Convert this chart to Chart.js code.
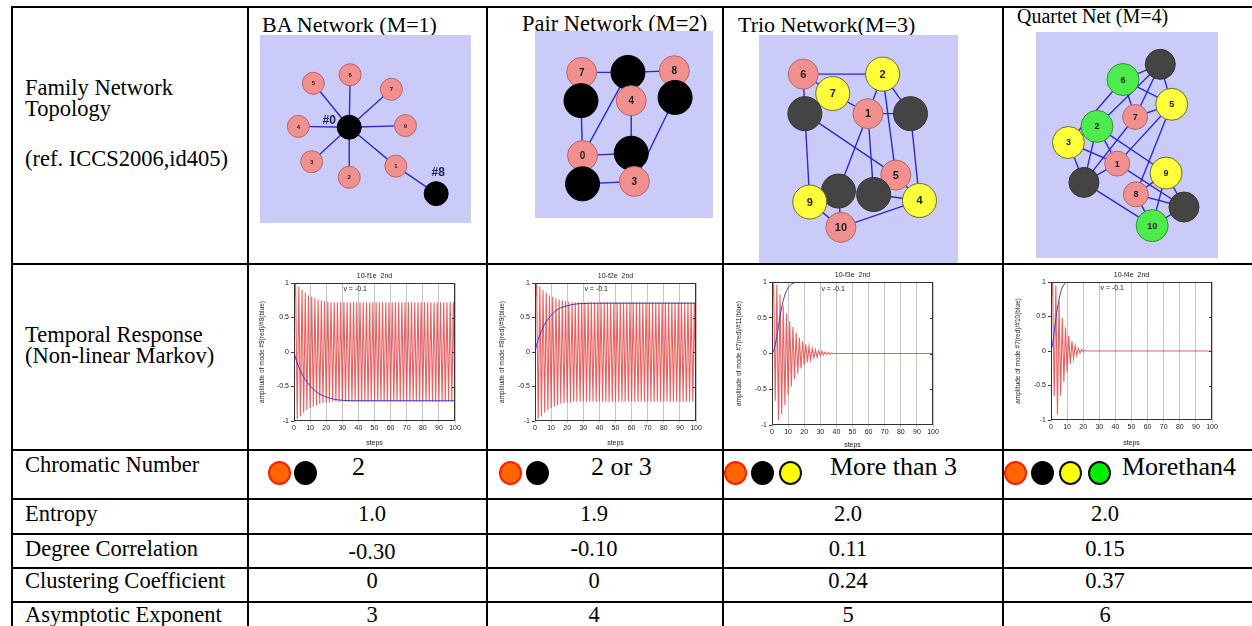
<!DOCTYPE html>
<html>
<head>
<meta charset="utf-8">
<script src="https://cdn.jsdelivr.net/npm/chart.js@4.4.1/dist/chart.umd.min.js"></script>
<style>
  html, body { margin: 0; padding: 0; background: #fff; }
  #page { position: relative; width: 1252px; height: 626px; overflow: hidden;
          font-family: "Liberation Serif", "Times New Roman", serif; color: #000; }
  .t { position: absolute; white-space: nowrap; line-height: 1; }
  .hl { position: absolute; background: #000; height: 2px; }
  .vl { position: absolute; background: #000; width: 2px; }
  .box { position: absolute; }
  .net { background: #cbcbfa; }
  .dot { position: absolute; border-radius: 50%; box-sizing: border-box; border: 2px solid #000; }
</style>
</head>
<body>
<div id="page"></div>
<script>
// ---------- table text ----------
const columnTitles = ["BA Network (M=1)", "Pair Network (M=2)", "Trio Network(M=3)", "Quartet Net (M=4)"];
const chromaticText = ["2", "2 or 3", "More than 3", "Morethan4"];
const chromaticCount = [2, 2, 3, 4];
const entropy = ["1.0", "1.9", "2.0", "2.0"];
const degreeCorrelation = ["-0.30", "-0.10", "0.11", "0.15"];
const clustering = ["0", "0", "0.24", "0.37"];
const asymptoticExponent = ["3", "4", "5", "6"];

// ---------- networks (x, y in % of the picture, y downwards) ----------
// kinds: r = pink, k = black, d = dark grey, y = yellow, g = green
const baLabels = ["", "1", "2", "3", "4", "5", "6", "7", "", "9"];
const baTags   = ["#0", "", "", "", "", "", "", "", "#8", ""];
const baKinds  = ["k", "r", "r", "r", "r", "r", "r", "r", "k", "r"];
const baX      = [41.2, 66.4, 41.2, 20.9, 13.7, 21.8, 41.7, 64.0, 88.2, 71.6];
const baY      = [48.9, 72.9, 79.8, 70.2, 48.4, 21.8, 16.5, 25.5, 89.9, 47.9];
const baEdges  = [[0,1],[0,2],[0,3],[0,4],[0,5],[0,6],[0,7],[0,9],[1,8]];

const pairLabels = ["7", "", "8", "", "4", "", "0", "", "", "3"];
const pairKinds  = ["r", "k", "r", "k", "r", "k", "r", "k", "k", "r"];
const pairX      = [20.2, 52.8, 85.4, 19.7, 55.1, 86.0, 20.8, 55.1, 20.8, 57.3];
const pairY      = [15.5, 15.5, 14.4, 34.2, 34.2, 32.1, 70.6, 69.0, 89.3, 87.7];
const pairEdges  = [[0,1],[1,2],[3,6],[6,1],[4,7],[6,7],[5,9],[8,9],[0,3],[2,5],[6,8],[1,4],[7,9]];

const trioLabels = ["6", "2", "7", "", "1", "", "5", "", "", "9", "4", "10"];
const trioKinds  = ["r", "y", "y", "d", "r", "d", "r", "d", "d", "y", "y", "r"];
const trioX      = [16.1, 64.8, 34.2, 17.1, 55.8, 81.9, 72.9, 37.7, 59.3, 20.1, 87.4, 39.2];
const trioY      = [11.0, 11.0, 21.1, 31.6, 31.6, 31.6, 63.6, 71.9, 73.7, 77.6, 76.8, 90.8];
const trioEdges  = [[0,1],[0,2],[0,3],[2,3],[2,4],[4,1],[4,5],[1,5],[1,6],[3,6],[3,9],[4,7],[4,8],
                    [5,10],[6,8],[6,10],[8,10],[7,11],[9,11],[11,10],[9,7]];

const quartetLabels = ["", "6", "5", "7", "2", "3", "1", "9", "", "8", "", "10"];
const quartetKinds  = ["d", "g", "y", "r", "g", "y", "r", "y", "d", "r", "d", "g"];
const quartetX      = [72.5, 47.3, 80.2, 55.5, 29.7, 10.4, 43.4, 76.4, 20.9, 56.0, 88.5, 67.0];
const quartetY      = [8.0, 15.9, 28.8, 35.4, 40.3, 48.7, 59.7, 64.6, 69.5, 75.7, 82.3, 92.0];
const quartetEdges  = [[0,1],[5,1],[4,0],[1,2],[1,3],[0,3],[0,2],[3,2],[3,8],[2,6],[2,9],[4,5],[4,8],
                       [4,6],[4,7],[5,8],[5,6],[8,6],[6,10],[8,11],[7,9],[7,11],[7,10],[9,10],[9,11],[11,10]];

// ---------- temporal response ----------
const plotTitles = ["10-f1e  2nd", "10-f2e  2nd", "10-f3e  2nd", "10-f4e  2nd"];
const plotNote = "v = -0.1";
const plotYLabels = ["amplitude of mode #9(red)/#8(blue)", "amplitude of mode #8(red)/#9(blue)",
                     "amplitude of mode #7(red)/#11(blue)", "amplitude of mode #7(red)/#10(blue)"];
const yTickLabels = ["-1", "-0.5", "0", "0.5", "1"];
const steps = [0,1,2,3,4,5,6,7,8,9,10,11,12,13,14,15,16,17,18,19,20,21,22,23,24,25,26,27,28,29,
  30,31,32,33,34,35,36,37,38,39,40,41,42,43,44,45,46,47,48,49,50,51,52,53,54,55,56,57,58,59,
  60,61,62,63,64,65,66,67,68,69,70,71,72,73,74,75,76,77,78,79,80,81,82,83,84,85,86,87,88,89,
  90,91,92,93,94,95,96,97,98,99,100];

const redBA = [0.70, 1.00, -0.97, 0.95, -0.93, 0.90, -0.88, 0.86, -0.84, 0.82,
  -0.81, 0.80, -0.79, 0.78, -0.77, 0.76, -0.75, 0.75, -0.74, 0.74,
  -0.73, 0.73, -0.73, 0.72, -0.72, 0.72, -0.72, 0.72, -0.72, 0.72,
  -0.72, 0.72, -0.72, 0.72, -0.72, 0.72, -0.72, 0.72, -0.72, 0.72,
  -0.72, 0.72, -0.72, 0.72, -0.72, 0.72, -0.72, 0.72, -0.72, 0.72,
  -0.72, 0.72, -0.72, 0.72, -0.72, 0.72, -0.72, 0.72, -0.72, 0.72,
  -0.72, 0.72, -0.72, 0.72, -0.72, 0.72, -0.72, 0.72, -0.72, 0.72,
  -0.72, 0.72, -0.72, 0.72, -0.72, 0.72, -0.72, 0.72, -0.72, 0.72,
  -0.72, 0.72, -0.72, 0.72, -0.72, 0.72, -0.72, 0.72, -0.72, 0.72,
  -0.72, 0.72, -0.72, 0.72, -0.72, 0.72, -0.72, 0.72, -0.72, 0.72,
  -0.72];
const redPair = [0.70, 1.00, -0.97, 0.95, -0.93, 0.90, -0.88, 0.86, -0.84, 0.82,
  -0.81, 0.80, -0.79, 0.78, -0.77, 0.76, -0.75, 0.75, -0.74, 0.74,
  -0.73, 0.73, -0.73, 0.72, -0.72, 0.72, -0.72, 0.72, -0.72, 0.72,
  -0.72, 0.72, -0.72, 0.72, -0.72, 0.72, -0.72, 0.72, -0.72, 0.72,
  -0.72, 0.72, -0.72, 0.72, -0.72, 0.72, -0.72, 0.72, -0.72, 0.72,
  -0.72, 0.72, -0.72, 0.72, -0.72, 0.72, -0.72, 0.72, -0.72, 0.72,
  -0.72, 0.72, -0.72, 0.72, -0.72, 0.72, -0.72, 0.72, -0.72, 0.72,
  -0.72, 0.72, -0.72, 0.72, -0.72, 0.72, -0.72, 0.72, -0.72, 0.72,
  -0.72, 0.72, -0.72, 0.72, -0.72, 0.72, -0.72, 0.72, -0.72, 0.72,
  -0.72, 0.72, -0.72, 0.72, -0.72, 0.72, -0.72, 0.72, -0.72, 0.72,
  -0.72];
const redTrio = [0.70, 0.98, -0.66, 0.96, -0.93, 0.82, -0.85, 0.66, -0.72, 0.56,
  -0.58, 0.45, -0.46, 0.37, -0.36, 0.29, -0.28, 0.22, -0.21, 0.17,
  -0.16, 0.13, -0.12, 0.10, -0.09, 0.07, -0.06, 0.05, -0.05, 0.04,
  -0.03, 0.03, -0.02, 0.02, -0.01, 0.01, -0.01, 0.01, 0, 0,
  0, 0, 0, 0, 0, 0, 0, 0, 0, 0,
  0, 0, 0, 0, 0, 0, 0, 0, 0, 0,
  0, 0, 0, 0, 0, 0, 0, 0, 0, 0,
  0, 0, 0, 0, 0, 0, 0, 0, 0, 0,
  0, 0, 0, 0, 0, 0, 0, 0, 0, 0,
  0, 0, 0, 0, 0, 0, 0, 0, 0, 0,
  0];
const redQuartet = [0.70, 1.00, -0.66, 0.95, -0.92, 0.72, -0.65, 0.48, -0.45, 0.34,
  -0.30, 0.22, -0.19, 0.14, -0.11, 0.08, -0.06, 0.04, -0.03, 0.02,
  -0.01, 0.01, 0, 0, 0, 0, 0, 0, 0, 0,
  0, 0, 0, 0, 0, 0, 0, 0, 0, 0,
  0, 0, 0, 0, 0, 0, 0, 0, 0, 0,
  0, 0, 0, 0, 0, 0, 0, 0, 0, 0,
  0, 0, 0, 0, 0, 0, 0, 0, 0, 0,
  0, 0, 0, 0, 0, 0, 0, 0, 0, 0,
  0, 0, 0, 0, 0, 0, 0, 0, 0, 0,
  0, 0, 0, 0, 0, 0, 0, 0, 0, 0,
  0];

const blueStepsBA = [0, 1, 2, 3, 5, 7, 10, 13, 16, 20, 25, 30, 40, 100];
const blueBA      = [0, -0.09, -0.16, -0.22, -0.32, -0.40, -0.49, -0.56, -0.61, -0.65, -0.685, -0.70, -0.706, -0.707];
const blueStepsPair = [0, 1, 2, 3, 5, 7, 10, 13, 16, 20, 25, 30, 40, 100];
const bluePair      = [0, 0.10, 0.18, 0.25, 0.36, 0.44, 0.53, 0.60, 0.64, 0.67, 0.695, 0.703, 0.707, 0.707];
const blueStepsTrio = [0, 1, 2, 3, 4, 5, 6, 7, 8, 10, 12, 14, 16, 100];
const blueTrio      = [0, 0.04, 0.12, 0.24, 0.38, 0.52, 0.64, 0.74, 0.82, 0.92, 0.97, 0.99, 1.0, 1.0];
const blueStepsQuartet = [0, 1, 2, 3, 4, 5, 6, 7, 8, 9, 10, 100];
const blueQuartet      = [0, 0.10, 0.28, 0.46, 0.62, 0.75, 0.85, 0.92, 0.96, 0.99, 1.0, 1.0];

// ---------- layout / style ----------
Chart.defaults.font.family = "'Liberation Sans', Arial, sans-serif";
const page = document.getElementById("page");
const labelSize = 22.5;
const valueCentres = [372, 594, 848, 1105];
const netBoxes = [[260, 35, 211, 188], [535, 31, 178, 187], [759, 35, 199, 228], [1036, 32, 182, 226]];
// left, top, width, height, y-axis width, right pad, top pad, x-axis height
const plotBoxes = [[252, 267, 232, 180, 42, 29, 16, 26], [492, 267, 228, 180, 43, 24, 16, 26],
                   [729, 267, 270, 182, 43, 66, 15, 24], [1008, 267, 240, 180, 43, 36, 15, 27]];
const nodeFill = { r: "#f29090", k: "#000000", d: "#444444", y: "#ffff3c", g: "#4cec4c" };
const nodeLine = { r: "#b06868", k: "#000000", d: "#333333", y: "#6a6a30", g: "#3a8a3a" };
const nodeSize = [{ r: 11, k: 12 }, { r: 15, k: 17 }, { r: 15, y: 17, d: 17 }, { r: 12.5, y: 16, g: 16, d: 15 }];
const nodeFont = [6, 10, 11, 9];
const tagOffset = [[-20, -7], [2, -21]];

function text(str, x, baseline, size, centre) {
  const d = document.createElement("div");
  d.className = "t";
  d.textContent = str;
  d.style.fontSize = size + "px";
  d.style.top = (baseline - 0.8375 * size) + "px";
  d.style.left = x + "px";
  if (centre) d.style.transform = "translateX(-50%)";
  page.appendChild(d);
}

function box(l, t, w, h, cls) {
  const d = document.createElement("div");
  d.className = "box " + (cls || "");
  Object.assign(d.style, { left: l + "px", top: t + "px", width: w + "px", height: h + "px" });
  page.appendChild(d);
  const c = document.createElement("canvas");
  d.appendChild(c);
  return c;
}

// row labels
text("Family Network", 25, 96, labelSize);
text("Topology", 25, 117, labelSize);
text("(ref. ICCS2006,id405)", 25, 167, labelSize);
text("Temporal Response", 25, 343, labelSize);
text("(Non-linear Markov)", 25, 364, labelSize);
text("Chromatic Number", 25, 473, labelSize);
text("Entropy", 25, 522, labelSize);
text("Degree Correlation", 25, 557, labelSize);
text("Clustering Coefficient", 25, 589, labelSize);
text("Asymptotic Exponent", 25, 623, labelSize);

// column headers
text(columnTitles[0], 262, 32, 22);
text(columnTitles[1], 522, 32, 22.5);
text(columnTitles[2], 738, 32, 22);
text(columnTitles[3], 1017, 23, 20);

// chromatic row
const dotLefts = [[268, 294], [499, 526], [724, 751, 779], [1004, 1031, 1059, 1088]];
const dotStyle = [["#ff6600", "#ff2000"], ["#000000", "#000000"], ["#ffff00", "#111111"], ["#00ee00", "#111111"]];
const chromaticLefts = [352, 591, 830, 1122];
chromaticCount.forEach((n, c) => {
  for (let k = 0; k < n; k++) {
    const d = document.createElement("div");
    d.className = "dot";
    Object.assign(d.style, { left: dotLefts[c][k] + "px", top: "461px", width: "23px", height: "24px",
      background: dotStyle[k][0], borderColor: dotStyle[k][1] });
    page.appendChild(d);
  }
  text(chromaticText[c], chromaticLefts[c], 476, 26);
});

// numeric rows
[[entropy, 522], [degreeCorrelation, 557], [clustering, 589], [asymptoticExponent, 623]].forEach(([vals, base]) => {
  vals.forEach((v, c) => text(v, valueCentres[c], base + (v === "-0.30" ? 3 : 0), 22.5, true));
});

// ---------- network pictures ----------
function networkChart(i, xs, ys, kinds, labels, edges, tags) {
  const [l, t, w, h] = netBoxes[i];
  const cv = box(l, t, w, h, "net");
  const nodes = xs.map((x, j) => ({ x: x, y: ys[j] }));
  const datasets = [{
    data: nodes,
    showLine: false,
    clip: false,
    pointRadius: c => nodeSize[i][kinds[c.dataIndex]],
    pointBackgroundColor: c => nodeFill[kinds[c.dataIndex]],
    pointBorderColor: c => nodeLine[kinds[c.dataIndex]],
    pointBorderWidth: 1
  }];
  edges.forEach(([a, b]) => datasets.push({
    data: [nodes[a], nodes[b]], showLine: true, clip: false,
    borderColor: "#2b2bcc", borderWidth: 1.4, pointRadius: 0
  }));
  new Chart(cv, {
    type: "scatter",
    data: { datasets },
    options: {
      animation: false, responsive: true, maintainAspectRatio: false, events: [],
      layout: { padding: 0 },
      plugins: { legend: { display: false }, tooltip: { enabled: false } },
      scales: {
        x: { type: "linear", min: 0, max: 100, display: false },
        y: { type: "linear", min: 0, max: 100, reverse: true, display: false }
      }
    },
    plugins: [{
      id: "nodeText",
      afterDatasetsDraw(chart) {
        const ctx = chart.ctx, pts = chart.getDatasetMeta(0).data;
        ctx.save();
        ctx.textAlign = "center";
        ctx.textBaseline = "middle";
        ctx.fillStyle = "#1e1e1e";
        ctx.font = "bold " + nodeFont[i] + "px 'Liberation Sans', Arial, sans-serif";
        pts.forEach((p, j) => { if (labels[j]) ctx.fillText(labels[j], p.x, p.y + 0.5); });
        if (tags) {
          ctx.font = "bold 12px 'Liberation Sans', Arial, sans-serif";
          ctx.fillStyle = "#1c1c58";
          let n = 0;
          pts.forEach((p, j) => {
            if (tags[j]) { ctx.fillText(tags[j], p.x + tagOffset[n][0], p.y + tagOffset[n][1]); n++; }
          });
        }
        ctx.restore();
      }
    }]
  });
}

networkChart(0, baX, baY, baKinds, baLabels, baEdges, baTags);
networkChart(1, pairX, pairY, pairKinds, pairLabels, pairEdges);
networkChart(2, trioX, trioY, trioKinds, trioLabels, trioEdges);
networkChart(3, quartetX, quartetY, quartetKinds, quartetLabels, quartetEdges);

// ---------- temporal response plots ----------
const plotDecor = {
  id: "plotDecor",
  afterDatasetsDraw(chart, args, opts) {
    const { ctx, chartArea: a, scales } = chart;
    ctx.save();
    ctx.strokeStyle = "#333";
    ctx.lineWidth = 1;
    ctx.strokeRect(a.left + 0.5, a.top + 0.5, a.right - a.left - 1, a.bottom - a.top - 1);
    ctx.fillStyle = "#222";
    ctx.font = "7px 'Liberation Sans', Arial, sans-serif";
    ctx.textAlign = "center";
    ctx.fillText(opts.title, (a.left + a.right) / 2, a.top - 5);
    ctx.fillText(opts.note, scales.x.getPixelForValue(38), scales.y.getPixelForValue(0.88));
    // small ticks on the right edge
    ctx.beginPath();
    [-0.5, 0, 0.5].forEach(v => {
      const y = Math.round(scales.y.getPixelForValue(v)) + 0.5;
      ctx.moveTo(a.right - 3, y);
      ctx.lineTo(a.right, y);
    });
    ctx.stroke();
    ctx.restore();
  }
};

function responseChart(i, red, blueSteps, blue) {
  const [l, t, w, h, yW, padR, padT, xH] = plotBoxes[i];
  const cv = box(l, t, w, h);
  new Chart(cv, {
    type: "line",
    data: {
      datasets: [
        { data: blueSteps.map((s, j) => ({ x: s, y: blue[j] })), borderColor: "#3a3ac6", borderWidth: 1,
          pointRadius: 0, cubicInterpolationMode: "monotone" },
        { data: steps.map((s, j) => ({ x: s, y: red[j] })), borderColor: "rgba(226,76,76,0.88)", borderWidth: 1.1,
          pointRadius: 0, tension: 0 }
      ]
    },
    options: {
      animation: false, responsive: true, maintainAspectRatio: false, events: [],
      layout: { padding: { top: padT, right: padR, left: 0, bottom: 0 } },
      plugins: {
        legend: { display: false }, tooltip: { enabled: false },
        plotDecor: { title: plotTitles[i], note: plotNote }
      },
      scales: {
        x: {
          type: "linear", min: 0, max: 100,
          ticks: { stepSize: 10, font: { size: 7 }, color: "#222", padding: 1, maxRotation: 0, autoSkip: false },
          grid: { color: "#c6c6c6", tickLength: 2 },
          border: { display: false },
          title: { display: true, text: "steps", font: { size: 7 }, color: "#222", padding: 0 },
          afterFit: s => { s.height = xH; }
        },
        y: {
          type: "linear", min: -1, max: 1,
          ticks: { stepSize: 0.5, font: { size: 7 }, color: "#222", padding: 2,
                   callback: (v, k) => yTickLabels[k] },
          grid: { drawOnChartArea: false, tickLength: 3, color: "#444" },
          border: { display: false },
          title: { display: true, text: plotYLabels[i], font: { size: 6.5 }, color: "#222", padding: { top: 6, bottom: 2 } },
          afterFit: s => { s.width = yW; }
        }
      }
    },
    plugins: [plotDecor]
  });
}

responseChart(0, redBA, blueStepsBA, blueBA);
responseChart(1, redPair, blueStepsPair, bluePair);
responseChart(2, redTrio, blueStepsTrio, blueTrio);
responseChart(3, redQuartet, blueStepsQuartet, blueQuartet);

// ---------- table rules ----------
[6, 263, 449, 498, 533, 567, 601].forEach(y => {
  const d = document.createElement("div");
  d.className = "hl";
  Object.assign(d.style, { left: "11px", top: y + "px", width: "1241px" });
  page.appendChild(d);
});
[11, 247, 486, 722, 1002].forEach(x => {
  const d = document.createElement("div");
  d.className = "vl";
  Object.assign(d.style, { left: x + "px", top: "6px", height: "620px" });
  page.appendChild(d);
});
</script>
</body>
</html>
